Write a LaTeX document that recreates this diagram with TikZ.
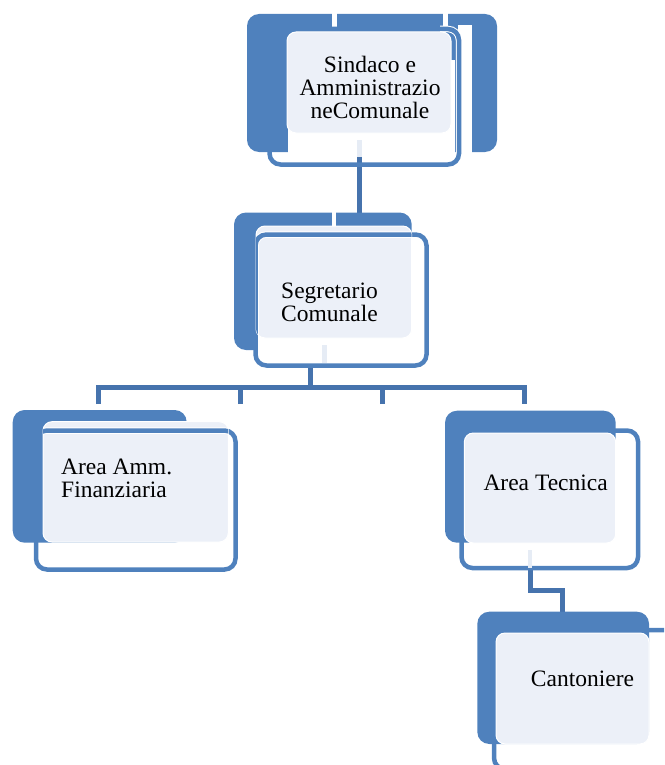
\documentclass[tikz,border=0pt]{standalone}
\usepackage{fontspec}
\setmainfont{Liberation Serif}
\definecolor{dk}{HTML}{4F81BD}
\definecolor{lt}{HTML}{ECF0F8}
\definecolor{cn}{HTML}{4673AD}
\definecolor{ls}{HTML}{E6ECF5}
\tikzset{
  darkbox/.style={fill=dk, rounded corners=12pt},
  lightbox/.style={fill=lt, draw=white, line width=1pt, rounded corners=9pt},
  framebox/.style={draw=dk, line width=4.5pt, rounded corners=11pt},
  halobox/.style={draw=white, line width=6.5pt, rounded corners=11pt},
  conn/.style={draw=cn, line width=5pt},
  stripe/.style={fill=ls},
  lbl/.style={font=\fontsize{23.5}{23}\selectfont, inner sep=0pt},
}
\begin{document}
\begin{tikzpicture}[x=1pt,y=-1pt]
\useasboundingbox (0,0) rectangle (664,765);
\clip (0,0) rectangle (664,765);

% ---------- connectors ----------
\coordinate (a1) at (359.5,157);
\coordinate (b1) at (359.5,214);
\draw[conn] (a1) -- (b1);

\coordinate (a2) at (310.5,366);
\coordinate (h) at (310.5,387);
\coordinate (hl) at (98,387);
\coordinate (hr) at (524,387);
\coordinate (t1) at (98,404);
\coordinate (t2) at (240,404);
\coordinate (t3) at (382,404);
\coordinate (t4) at (524,404);
\draw[conn] (a2) -- (h);
\draw[conn] (t1) -- (hl) -- (hr) -- (t4);
\draw[conn] (t2) -- (t2 |- hl);
\draw[conn] (t3) -- (t3 |- hl);

\coordinate (a4) at (530,566);
\coordinate (m4) at (530,590);
\coordinate (b5) at (562.5,613);
\draw[conn] (a4) -- (m4) -| (b5);

% ---------- box 1 ----------
\fill[darkbox] (247,14) rectangle (497,152);
\fill[white] (332,12) rectangle (336.5,28);
\fill[white] (443,12) rectangle (447.5,28);
\fill[white] (458,25) rectangle (472,153);
\fill[white] (288,60) rectangle (455,153);
\begin{scope}
  \clip (440,0) rectangle (500,170);
  \draw[halobox] (269.5,29) rectangle (459,164.5);
\end{scope}
\draw[framebox] (269.5,29) rectangle (459,164.5);
\draw[lightbox] (287,32) rectangle (451,133);
\fill[stripe] (357,140) rectangle (362,157);
\node[lbl, align=center, anchor=north] (n1) at (370,55.5) {Sindaco e\\Amministrazio\\neComunale};

% ---------- box 2 ----------
\draw[framebox] (255.5,234.5) rectangle (426.5,365.5);
\fill[darkbox] (234,212.5) rectangle (411.7,350);
\fill[white] (332,211) rectangle (335.5,226);
\fill[white] (258,300) rectangle (413,352);
\draw[lightbox] (256,226) rectangle (411.7,338);
\begin{scope}
  \clip[rounded corners=9pt] (256,226) rectangle (411.7,338);
  \draw[halobox] (255.5,234.5) rectangle (426.5,365.5);
  \draw[framebox] (255.5,234.5) rectangle (426.5,365.5);
\end{scope}
\fill[stripe] (322,345) rectangle (327,363);
\node[lbl, align=left, anchor=north west] (n2) at (281,282.3) {Segretario\\Comunale};

% ---------- box 3 ----------
\draw[framebox] (36,430.5) rectangle (235.5,569.5);
\fill[darkbox] (12.7,410) rectangle (186.7,542.7);
\draw[lightbox] (43,421.7) rectangle (228.3,542);
\begin{scope}
  \clip[rounded corners=9pt] (43,421.7) rectangle (228.3,542);
  \draw[halobox] (36,430.5) rectangle (235.5,569.5);
  \draw[framebox] (36,430.5) rectangle (235.5,569.5);
\end{scope}
\node[lbl, align=left, anchor=north west] (n3) at (61,459) {Area Amm.\\Finanziaria};

% ---------- box 4 ----------
\draw[framebox] (461.5,430.5) rectangle (638,568);
\fill[darkbox] (445,410.7) rectangle (615.7,542.7);
\draw[lightbox] (464.3,433) rectangle (615.7,543);
\fill[stripe] (528,550) rectangle (532,568);
\node[lbl, anchor=base west] (n4) at (483.3,490.7) {Area Tecnica};

% ---------- box 5 ----------
\draw[framebox] (494,630) rectangle (676,769);
\fill[darkbox] (477.3,611.7) rectangle (649,744);
\draw[lightbox] (496,633) rectangle (649,744);
\node[lbl, anchor=base west] (n5) at (530.7,686.7) {Cantoniere};
\end{tikzpicture}
\end{document}
